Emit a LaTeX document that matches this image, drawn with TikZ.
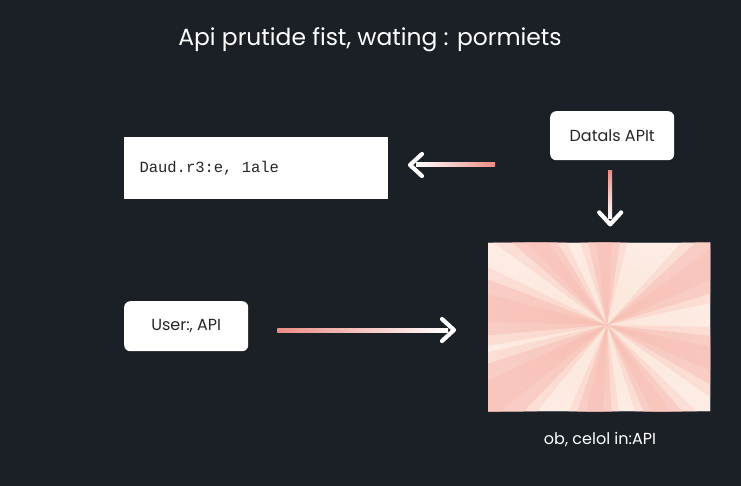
\documentclass[tikz,border=0pt]{standalone}
\usepackage{fontspec}
\setmainfont{Poppins}
\setmonofont{Liberation Mono}
\usetikzlibrary{arrows.meta,calc}
\definecolor{bg}{RGB}{27,32,38}
\definecolor{rayA}{RGB}{246,168,158}
\definecolor{rayB}{RGB}{252,230,218}
\definecolor{shaftpink}{RGB}{236,140,132}
\tikzset{
  wbox/.style={fill=white, draw=none, inner sep=0pt, anchor=north west},
  rbox/.style={wbox, rounded corners=6pt},
  lbl/.style={text=black!85, font=\fontsize{16}{18}\selectfont},
  chev/.style={draw=white, line width=4.2pt, line cap=round, line join=round},
}
\begin{document}
\begin{tikzpicture}[x=1pt,y=-1pt]
\fill[bg] (0,0) rectangle (741,486);
\useasboundingbox (0,0) rectangle (741,486);

% title
\node[text=white, font=\fontsize{23.4}{26}\selectfont] (title) at (370,40) {Api prutide fist, wating : pormiets};

% top-left box
\node[wbox, minimum width=264pt, minimum height=62pt] (dbox) at (124,137) {};
\node[anchor=west, text=black!85, font=\ttfamily\fontsize{15.5}{18}\selectfont] (dtext) at ($(dbox.west)+(12,0)$) {Daud.r3:e, 1ale};

% Datals box
\node[rbox, minimum width=124pt, minimum height=49pt] (datals) at (550,111) {};
\node[lbl] (datalst) at (datals.center) {Datals APIt};

% User box
\node[rbox, minimum width=124pt, minimum height=50pt] (user) at (124,301) {};
\node[lbl] (usert) at (user.center) {User:, API};

% image panel
\node[wbox, minimum width=222pt, minimum height=168pt, fill=rayB] (panel) at (488,243) {};
\coordinate (sc) at (607,325);
\begin{scope}
\clip (panel.north west) rectangle (panel.south east);
\foreach \a/\w in {-172/26,148/28,98/22,58/18,18/24,-30/26,-92/22,-130/18}{
  \fill[rayA, opacity=0.3] (sc) -- ($(sc)+(\a-\w/2-5:320)$) -- ($(sc)+(\a+\w/2+5:320)$) -- cycle;
  \fill[rayA, opacity=0.5] (sc) -- ($(sc)+(\a-\w/2:320)$) -- ($(sc)+(\a+\w/2:320)$) -- cycle;
  \fill[rayA, opacity=0.45] (sc) -- ($(sc)+(\a-\w/4:320)$) -- ($(sc)+(\a+\w/4:320)$) -- cycle;
}
\shade[inner color=rayB, outer color=white, opacity=0.25] (panel.north west) rectangle (panel.south east);
\end{scope}

% bottom label
\node[text=white, font=\fontsize{16}{18}\selectfont] (cap) at (600,440) {ob, celol in:API};

% arrow: right -> left box
\coordinate (a1s) at (495,165);
\coordinate (a1e) at (410,165);
\shade[left color=white, right color=shaftpink] ($(a1e)+(6,-2)$) rectangle ($(a1s)+(0,2)$);
\draw[chev] ($(a1e)+(12,-11)$) -- (a1e) -- ($(a1e)+(12,11)$);

% arrow: Datals down
\coordinate (a2s) at ($(datals.south)+(-2,10)$);
\coordinate (a2e) at ($(datals.south)+(-2,64)$);
\shade[top color=shaftpink, bottom color=white] ($(a2s)+(-2,0)$) rectangle ($(a2e)+(2,-6)$);
\draw[chev] ($(a2e)+(-11,-12)$) -- (a2e) -- ($(a2e)+(11,-12)$);

% arrow: User -> panel
\coordinate (a3s) at ($(user.east)+(29,4)$);
\coordinate (a3e) at (454,330);
\shade[left color=shaftpink, right color=white] ($(a3s)+(0,-2)$) rectangle ($(a3e)+(-6,2)$);
\draw[chev] ($(a3e)+(-12,-11)$) -- (a3e) -- ($(a3e)+(-12,11)$);
\end{tikzpicture}
\end{document}
